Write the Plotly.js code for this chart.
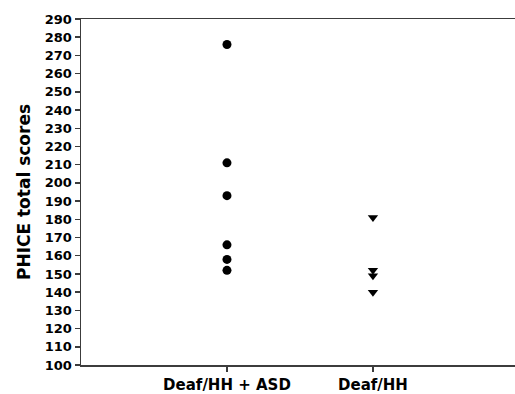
<!DOCTYPE html>
<html>
<head>
<meta charset="utf-8">
<script src="https://cdn.plot.ly/plotly-3.0.1.min.js"></script>
<style>html,body{margin:0;padding:0;background:#fff;}#chart{width:515px;height:394px;}</style>
</head>
<body>
<div id="chart"></div>
<script>
var categories = ['Deaf/HH + ASD', 'Deaf/HH'];
var asdScores = [276, 211, 193, 166, 158, 152];
var dhhScores = [181, 152, 149, 140];
var yTickVals = [100,110,120,130,140,150,160,170,180,190,200,210,220,230,240,250,260,270,280,290];

function xs(cat, n) { var p = categories.indexOf(cat) + 1; var a = []; for (var i = 0; i < n; i++) a.push(p); return a; }

var font = 'DejaVu Sans, Arial, sans-serif';
var axisColor = '#3c3c3c';

var traces = [
  { x: xs(categories[0], asdScores.length), y: asdScores, type: 'scatter', mode: 'markers',
    marker: { symbol: 'circle', size: 9, color: '#000' }, hoverinfo: 'y' },
  { x: xs(categories[1], dhhScores.length), y: dhhScores, type: 'scatter', mode: 'markers',
    marker: { symbol: 'triangle-down', size: 9, color: '#000' }, hoverinfo: 'y' }
];

var layout = {
  width: 515, height: 394,
  margin: { l: 81, r: 0, t: 19, b: 29, pad: 0 },
  paper_bgcolor: '#fff', plot_bgcolor: '#fff',
  showlegend: false,
  font: { family: font, color: '#000' },
  xaxis: {
    range: [0, 2.973], tickvals: [1, 2], ticktext: categories,
    showgrid: false, zeroline: false, showline: true, mirror: true,
    linecolor: axisColor, linewidth: 1.5,
    ticks: 'outside', ticklen: 5, tickwidth: 1.5, tickcolor: axisColor,
    tickfont: { family: font, size: 15, color: '#000', weight: 'bold' },
    automargin: false
  },
  yaxis: {
    range: [100, 290], tickvals: yTickVals,
    showgrid: false, zeroline: false, showline: true, mirror: false,
    linecolor: axisColor, linewidth: 1.5,
    ticks: 'outside', ticklen: 5, tickwidth: 1.5, tickcolor: axisColor,
    tickfont: { family: font, size: 13, color: '#000', weight: 'bold' },
    title: { text: 'PHICE total scores', font: { family: font, size: 17, color: '#000', weight: 'bold' }, standoff: 10 },
    automargin: false
  }
};

Plotly.newPlot('chart', traces, layout, { staticPlot: true, displayModeBar: false });
</script>
</body>
</html>
